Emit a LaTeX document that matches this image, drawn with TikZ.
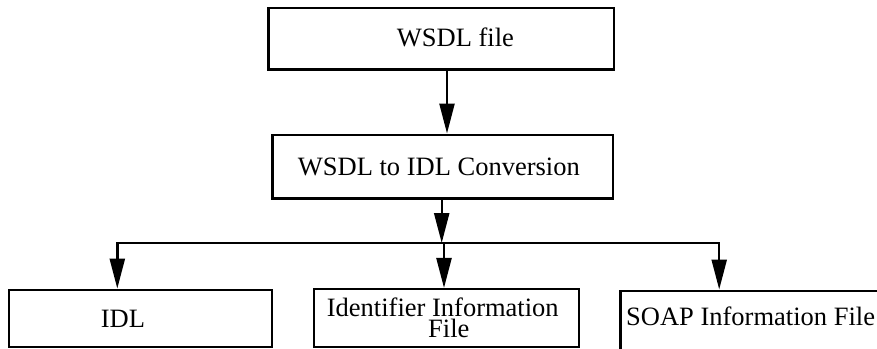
\documentclass[tikz,border=0pt]{standalone}
\usepackage{fontspec}
\setmainfont{Liberation Serif}
\usetikzlibrary{arrows.meta}
\begin{document}
\begin{tikzpicture}[x=1pt,y=-1pt,
  box/.style={draw, line width=2.4pt, inner sep=0pt, rectangle},
  lbl/.style={font=\fontsize{26.5}{21}\selectfont, inner sep=0pt, anchor=base west},
  conn/.style={line width=2.4pt},
  arr/.style={conn, -{Triangle[length=30pt,width=15pt]}}]
\useasboundingbox (0,0) rectangle (877,348);
\clip (0,0) rectangle (877,348);
% boxes
\node[box, minimum width=345.7pt, minimum height=61.3pt] (wsdl) at (441.2,38.7) {};
\node[box, minimum width=340.4pt, minimum height=63.6pt] (conv) at (442.5,166.5) {};
\node[box, minimum width=263pt, minimum height=57.4pt] (idl) at (140.5,318.5) {};
\node[box, minimum width=265pt, minimum height=57.7pt] (ident) at (446.5,318) {};
\node[box, minimum width=339.4pt, minimum height=108.6pt] (soap) at (790,345) {};
% labels
\node[lbl] (wsdlt) at (396.7,46) {WSDL file};
\node[lbl] (convt) at (297.7,175) {WSDL to IDL Conversion};
\node[lbl] (idlt) at (100.7,327.3) {IDL};
\node[lbl, anchor=north west, align=left] (identt) at (326.7,297.4)
  {Identifier Information\\\hspace*{101.3pt}File};
\node[lbl] (soapt) at (626,325) {SOAP Information File};
% connectors
\coordinate (x1) at (447,0);
\draw[arr] (wsdl.south -| x1) -- (conv.north -| x1);
\coordinate (x2) at (441.7,0);
\coordinate (j) at (441.7,243);
\draw[arr] (conv.south -| x2) -- (j);
\coordinate (bl) at (117.3,243);
\coordinate (br) at (719.2,243);
\coordinate (m) at (444,243);
\draw[conn, line cap=rect] (bl) -- (br);
\draw[arr] (bl) -- (idl.north -| bl);
\draw[arr] (m) -- (ident.north -| m);
\draw[arr] (br) -- (soap.north -| br);
\end{tikzpicture}
\end{document}
